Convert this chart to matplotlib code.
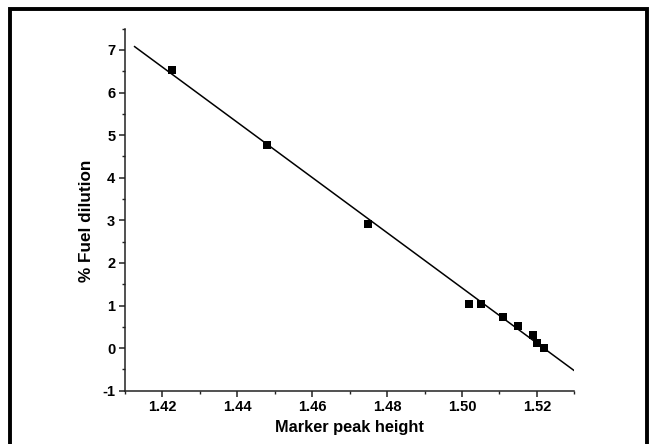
import matplotlib
matplotlib.use("Agg")
import matplotlib.pyplot as plt
from matplotlib.patches import Rectangle
from matplotlib.ticker import MultipleLocator
import numpy as np

# data
peak_height = [1.4225, 1.448, 1.475, 1.502, 1.505, 1.511, 1.515, 1.519, 1.520, 1.522]
fuel_dilution = [6.52, 4.77, 2.92, 1.03, 1.03, 0.72, 0.52, 0.31, 0.11, 0.0]
fit_x = [1.4124, 1.530]
fit_y = [7.09, -0.53]
x_ticks = [1.42, 1.44, 1.46, 1.48, 1.50, 1.52]
y_ticks = [-1, 0, 1, 2, 3, 4, 5, 6, 7]

plt.rcParams['font.family'] = ['Liberation Sans', 'DejaVu Sans']
plt.rcParams['font.weight'] = 'bold'

W, H = 651, 444
fig = plt.figure(figsize=(W / 100, H / 100), dpi=100)
ax = fig.add_axes([125 / W, 1 - 390.7 / H, (574.3 - 125) / W, (390.7 - 28.7) / H])

ax.plot(fit_x, fit_y, color='black', lw=1.1, solid_capstyle='butt')
ax.plot(peak_height, fuel_dilution, 's', color='black', ms=5.2, mew=0)

ax.set_xlim(1.41, 1.53)
ax.set_ylim(-1, 7.5)
ax.set_xticks(x_ticks)
ax.set_xticklabels([f"{v:.2f}" for v in x_ticks])
ax.set_yticks(y_ticks)
ax.set_yticklabels([str(v) for v in y_ticks])
ax.xaxis.set_minor_locator(MultipleLocator(0.01))
ax.yaxis.set_minor_locator(MultipleLocator(0.5))

for s in ['top', 'right']:
    ax.spines[s].set_visible(False)
for s in ['left', 'bottom']:
    ax.spines[s].set_linewidth(1.1)
    ax.spines[s].set_color('#222222')

ax.tick_params(which='major', direction='out', length=4, width=1.1, labelsize=10.5, pad=3, color='#222222')
ax.tick_params(which='minor', direction='out', length=2.5, width=1.0, color='#222222')
for lbl in ax.get_xticklabels() + ax.get_yticklabels():
    lbl.set_fontweight('bold')

ax.set_xlabel('Marker peak height', fontsize=11.8, fontweight='bold', labelpad=4)
ax.set_ylabel('% Fuel dilution', fontsize=12.3, fontweight='bold')
ax.yaxis.set_label_coords(-0.068, 0.47)

# outer frame
fig.patches.append(Rectangle((10 / W, -0.05), (647 - 10) / W, 1.05 - 9 / H,
                             transform=fig.transFigure, fill=False,
                             edgecolor='black', lw=2.8))

fig.savefig('out.png', dpi=100)
